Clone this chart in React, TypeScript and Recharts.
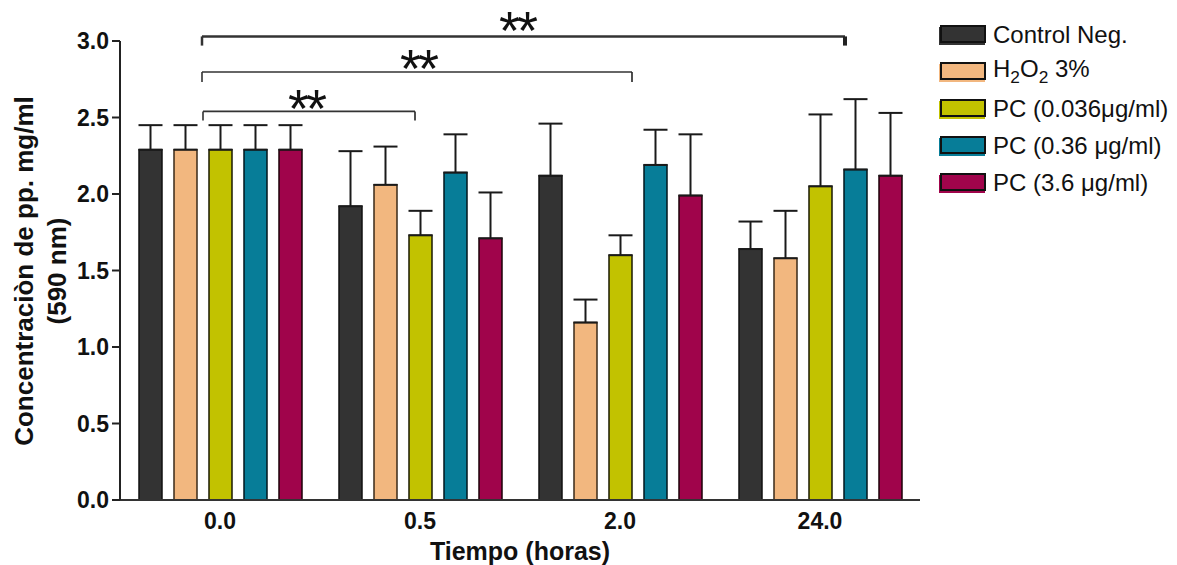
import {
  Bar,
  BarChart,
  ErrorBar,
  Legend,
  ReferenceDot,
  ReferenceLine,
  XAxis,
  YAxis,
} from "recharts";

// tiempo de muestreo
const times = ["0.0", "0.5", "2.0", "24.0"];

// medias y error (solo hacia arriba)
const controlNeg = [2.29, 1.92, 2.12, 1.64];
const controlNegErr = [0.16, 0.36, 0.34, 0.18];
const h2o2 = [2.29, 2.06, 1.16, 1.58];
const h2o2Err = [0.16, 0.25, 0.15, 0.31];
const pcLow = [2.29, 1.73, 1.6, 2.05];
const pcLowErr = [0.16, 0.16, 0.13, 0.47];
const pcMid = [2.29, 2.14, 2.19, 2.16];
const pcMidErr = [0.16, 0.25, 0.23, 0.46];
const pcHigh = [2.29, 1.71, 1.99, 2.12];
const pcHighErr = [0.16, 0.3, 0.4, 0.41];

const yTicks = [0, 0.5, 1, 1.5, 2, 2.5, 3];

// brackets de significancia (x en unidades de categoría, 0..4)
const brackets = [
  { from: 0.415, to: 1.475, y: 2.54, drop: 0.06, starX: 0.93, starY: 2.6, heavy: false },
  { from: 0.41, to: 2.56, y: 2.797, drop: 0.065, starX: 1.49, starY: 2.86, heavy: false },
  { from: 0.41, to: 3.625, y: 3.03, drop: 0.06, starX: 1.985, starY: 3.11, heavy: true },
];

const series = [
  { key: "control", name: "Control Neg.", values: controlNeg, errors: controlNegErr, fill: "#333333", stroke: "#111111" },
  { key: "h2o2", name: "H2O2 3%", values: h2o2, errors: h2o2Err, fill: "#F2B77F", stroke: "#3a2a18" },
  { key: "pcLow", name: "PC (0.036\u03BCg/ml)", values: pcLow, errors: pcLowErr, fill: "#C2C200", stroke: "#1a1a00" },
  { key: "pcMid", name: "PC (0.36 \u03BCg/ml)", values: pcMid, errors: pcMidErr, fill: "#077D98", stroke: "#02161c" },
  { key: "pcHigh", name: "PC (3.6 \u03BCg/ml)", values: pcHigh, errors: pcHighErr, fill: "#A0044B", stroke: "#1c0009" },
];

const data = times.map((time, i) => {
  const row: Record<string, unknown> = { time, pos: i + 0.5 };
  series.forEach((s) => {
    row[s.key] = s.values[i];
    row[s.key + "Err"] = [0, s.errors[i]];
  });
  return row;
});

const FONT = "'Liberation Sans', Arial, sans-serif";

function LegendBox() {
  return (
    <div style={{ fontFamily: FONT, fontSize: 24, color: "#111" }}>
      {series.map((s) => (
        <div
          key={s.key}
          style={{ height: 37.2, display: "flex", alignItems: "center" }}
        >
          <svg width={50} height={24} style={{ marginRight: 5 }}>
            <rect x={1} y={4} width={46} height={18} fill={s.fill} />
            <rect x={3} y={3} width={44} height={16} fill={s.fill} stroke="#111" strokeWidth={2} />
          </svg>
          <span style={{ whiteSpace: "nowrap" }}>
            {s.key === "h2o2" ? (
              <>
                H<sub style={{ fontSize: "0.72em" }}>2</sub>O
                <sub style={{ fontSize: "0.72em" }}>2</sub> 3%
              </>
            ) : (
              s.name
            )}
          </span>
        </div>
      ))}
    </div>
  );
}

function YTitle() {
  return (
    <g fontFamily={FONT} fontWeight="bold" fontSize={26} fill="#111">
      <text x={33} y={271} textAnchor="middle" transform="rotate(-90 33 271)">
        Concentraciòn de pp. mg/ml
      </text>
      <text x={66} y={271} textAnchor="middle" transform="rotate(-90 66 271)">
        (590 nm)
      </text>
    </g>
  );
}

export default function App() {
  return (
    <div style={{ position: "absolute", left: 0, top: 0, background: "#fff" }}>
      <BarChart
        width={1177}
        height={565}
        data={data}
        margin={{ top: 41, right: 257, bottom: 0, left: 0 }}
        barSize={23}
        barGap={12}
      >
        <XAxis
          xAxisId="cat"
          dataKey="time"
          height={65}
          tickLine={false}
          tickSize={0}
          tickMargin={13}
          axisLine={{ stroke: "#333", strokeWidth: 2 }}
          tick={{ fill: "#111", fontSize: 23, fontWeight: "bold", fontFamily: FONT }}
          label={{
            value: "Tiempo (horas)",
            position: "insideBottom",
            offset: 5,
            fill: "#111",
            fontSize: 25,
            fontWeight: "bold",
            fontFamily: FONT,
          }}
        />
        <XAxis
          xAxisId="num"
          dataKey="pos"
          type="number"
          domain={[0, 4]}
          allowDataOverflow
          hide
        />
        <YAxis
          width={120}
          domain={[0, 3]}
          ticks={yTicks}
          interval={0}
          tickFormatter={(v) => Number(v).toFixed(1)}
          tickSize={8}
          tickMargin={3}
          axisLine={{ stroke: "#222", strokeWidth: 2 }}
          tickLine={{ stroke: "#222", strokeWidth: 2 }}
          tick={{ fill: "#111", fontSize: 23, fontWeight: "bold", fontFamily: FONT }}
          label={{ content: () => <YTitle /> }}
        />
        <Legend
          layout="vertical"
          align="center"
          verticalAlign="middle"
          wrapperStyle={{ left: 938, top: 16, width: 239 }}
          content={() => <LegendBox />}
        />
        {series.map((s) => (
          <Bar
            key={s.key}
            xAxisId="cat"
            dataKey={s.key}
            name={s.name}
            fill={s.fill}
            stroke={s.stroke}
            strokeWidth={1.5}
            isAnimationActive={false}
          >
            <ErrorBar
              dataKey={s.key + "Err"}
              direction="y"
              width={12}
              stroke="#1a1a1a"
              strokeWidth={2}
            />
          </Bar>
        ))}
        {brackets.map((b, i) => {
          const sw = b.heavy ? 2.5 : 1.6;
          return [
            <ReferenceLine
              key={`h${i}`}
              xAxisId="num"
              ifOverflow="visible"
              stroke="#333"
              strokeWidth={sw}
              segment={[
                { x: b.from, y: b.y },
                { x: b.to, y: b.y },
              ]}
            />,
            <ReferenceLine
              key={`l${i}`}
              xAxisId="num"
              ifOverflow="visible"
              stroke="#333"
              strokeWidth={sw}
              segment={[
                { x: b.from, y: b.y },
                { x: b.from, y: b.y - b.drop },
              ]}
            />,
            <ReferenceLine
              key={`r${i}`}
              xAxisId="num"
              ifOverflow="visible"
              stroke="#222"
              strokeWidth={b.heavy ? 4 : sw}
              segment={[
                { x: b.to, y: b.y },
                { x: b.to, y: b.y - b.drop },
              ]}
            />,
            <ReferenceDot
              key={`s${i}`}
              xAxisId="num"
              x={b.starX}
              y={b.starY}
              r={0}
              ifOverflow="visible"
              label={{
                content: (p: any) => (
                  <text
                    x={p.viewBox.x + (p.viewBox.width || 0) / 2}
                    y={p.viewBox.y + (p.viewBox.height || 0) / 2 + 25}
                    textAnchor="middle"
                    fontFamily={FONT}
                    fontSize={54}
                    fill="#111"
                    letterSpacing={-3}
                  >
                    **
                  </text>
                ),
              }}
            />,
          ];
        })}
      </BarChart>
    </div>
  );
}
